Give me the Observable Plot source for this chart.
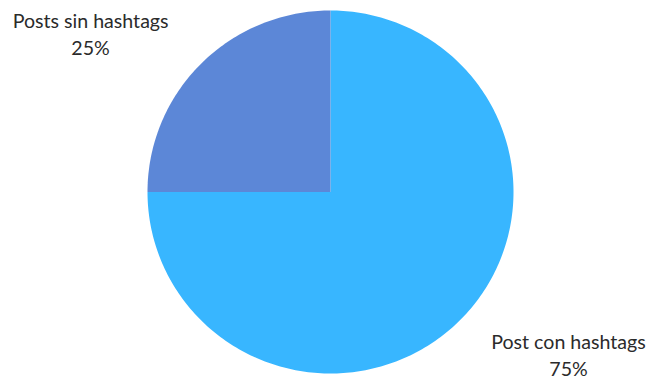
<!DOCTYPE html>
<html>
<head>
<meta charset="utf-8">
<script src="https://cdn.jsdelivr.net/npm/d3@7"></script>
<script src="https://cdn.jsdelivr.net/npm/@observablehq/plot@0.6"></script>
<style>
  html, body { margin: 0; padding: 0; background: #fff; }
  #chart svg { display: block; }
</style>
</head>
<body>
<div id="chart"></div>
<script>
const categories = ["Post con hashtags", "Posts sin hashtags"];
const values = [75, 25];
const labels = ["Post con hashtags\n75%", "Posts sin hashtags\n25%"];
const colors = ["#38B6FF", "#5C87D7"];

const pie = d3.pie().sort(null).value(d => d.value)(
  categories.map((c, i) => ({category: c, value: values[i], label: labels[i]}))
);

// Outline points of each slice on the unit circle (angle clockwise from 12 o'clock)
const slicePoints = pie.flatMap(a => {
  const n = Math.max(2, Math.ceil((a.endAngle - a.startAngle) / (Math.PI / 180)));
  const pts = [{category: a.data.category, x: 0, y: 0}];
  for (let k = 0; k <= n; k++) {
    const t = a.startAngle + (a.endAngle - a.startAngle) * k / n;
    pts.push({category: a.data.category, x: Math.sin(t), y: Math.cos(t)});
  }
  pts.push({category: a.data.category, x: 0, y: 0});
  return pts;
});

const labelPos = {
  "Posts sin hashtags": {x: -1.311, y: 0.878},
  "Post con hashtags": {x: 1.3005, y: -0.89}
};
const labelData = pie.map(a => ({label: a.data.label, ...labelPos[a.data.category]}));

const chart = Plot.plot({
  width: 649,
  height: 376,
  marginLeft: 147,
  marginRight: 136,
  marginTop: 10,
  marginBottom: 3,
  x: {domain: [-1, 1], axis: null},
  y: {domain: [-1, 1], axis: null},
  color: {domain: categories, range: colors},
  style: {fontFamily: "Lato, sans-serif", overflow: "visible"},
  marks: [
    Plot.line(slicePoints, {x: "x", y: "y", z: "category", fill: "category", stroke: "none", curve: "linear-closed"}),
    Plot.text(labelData, {x: "x", y: "y", text: "label", fontSize: 19.6, lineHeight: 1.42, lineAnchor: "middle", fill: "#2b2b2b", clip: false})
  ]
});
document.getElementById("chart").appendChild(chart);
</script>
</body>
</html>
